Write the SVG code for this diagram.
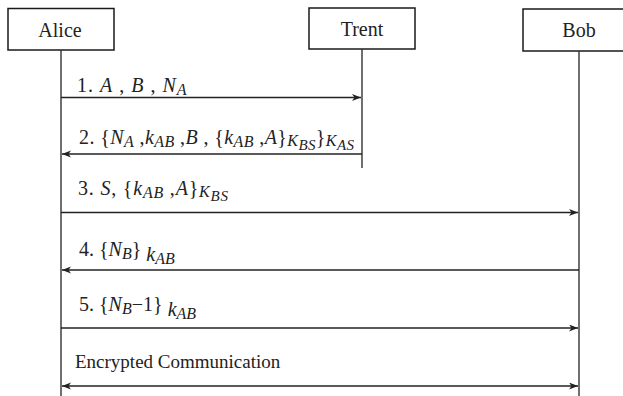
<svg xmlns="http://www.w3.org/2000/svg" width="623" height="396" viewBox="0 0 623 396">
<style>
.box{fill:#fff;stroke:#1a1a1a;stroke-width:1.5}
.life{stroke:#333;stroke-width:1.4;fill:none}
.msg{stroke:#222;stroke-width:1.4;fill:none}
.t{font-family:'Liberation Serif','Times New Roman','DejaVu Serif',serif;fill:#222}
.name{font-size:20px}
.enc{font-size:19px}
.lbl{font-size:20px;letter-spacing:0.4px}
.i{font-style:italic}
.s{font-size:16px;font-style:italic}
.ss{font-size:15px;font-style:italic}
</style>
<defs>
<marker id="ah" markerUnits="userSpaceOnUse" markerWidth="10" markerHeight="8" refX="9" refY="3.5" orient="auto-start-reverse">
<path d="M0,0 L9,3.5 L0,7 L2.5,3.5 z" fill="#222"/>
</marker>
</defs>
<g id="alice">
<rect class="box" x="8" y="8.5" width="106" height="41.5"/>
<text class="t name" x="60" y="37" text-anchor="middle">Alice</text>
</g>
<g id="trent">
<rect class="box" x="309" y="8" width="106" height="41"/>
<text class="t name" x="362" y="36" text-anchor="middle">Trent</text>
</g>
<g id="bob">
<rect class="box" x="523" y="9" width="112" height="42"/>
<text class="t name" x="579" y="37" text-anchor="middle">Bob</text>
</g>
<g id="connectors">
<line class="life" x1="61" y1="50" x2="61" y2="396"/>
<line class="life" x1="362" y1="49" x2="362" y2="168"/>
<line class="life" x1="579" y1="51" x2="579" y2="396"/>
<line class="msg" x1="61" y1="97.5" x2="361" y2="97.5" marker-end="url(#ah)"/>
<line class="msg" x1="362" y1="154" x2="62" y2="154" marker-end="url(#ah)"/>
<line class="msg" x1="61" y1="212.5" x2="578" y2="212.5" marker-end="url(#ah)"/>
<line class="msg" x1="579" y1="270" x2="62" y2="270" marker-end="url(#ah)"/>
<line class="msg" x1="61" y1="328" x2="578" y2="328" marker-end="url(#ah)"/>
<line class="msg" x1="62" y1="386" x2="578" y2="386" marker-start="url(#ah)" marker-end="url(#ah)"/>
</g>
<g id="labels">
<text class="t lbl" x="77" y="92" style="letter-spacing:1px">1. <tspan class="i">A</tspan> , <tspan class="i">B</tspan> , <tspan class="i">N</tspan><tspan class="s" dy="3">A</tspan></text>
<text class="t lbl" x="79" y="144">2. {<tspan class="i">N</tspan><tspan class="s" dy="3">A</tspan><tspan dy="-3"> ,</tspan><tspan class="i">k</tspan><tspan class="s" dy="3">AB</tspan><tspan dy="-3"> ,</tspan><tspan class="i">B</tspan> , {<tspan class="i">k</tspan><tspan class="s" dy="3">AB</tspan><tspan dy="-3"> ,</tspan><tspan class="i">A</tspan>}<tspan class="s" dy="2">K</tspan><tspan class="ss" dy="4">BS</tspan><tspan dy="-6">}</tspan><tspan class="s" dy="2">K</tspan><tspan class="ss" dy="4">AS</tspan></text>
<text class="t lbl" x="78" y="195" style="letter-spacing:0.8px">3. <tspan class="i">S</tspan>, {<tspan class="i">k</tspan><tspan class="s" dy="3">AB</tspan><tspan dy="-3"> ,</tspan><tspan class="i">A</tspan>}<tspan class="s" dy="2">K</tspan><tspan class="ss" dy="4">BS</tspan></text>
<text class="t lbl" x="79" y="256" style="letter-spacing:0">4. {<tspan class="i">N</tspan><tspan class="s" dy="3">B</tspan><tspan dy="-3">} </tspan><tspan class="i" dy="5">k</tspan><tspan class="s" dy="3">AB</tspan></text>
<text class="t lbl" x="79" y="311" style="letter-spacing:0">5. {<tspan class="i">N</tspan><tspan class="s" dy="3">B</tspan><tspan dy="-3">−1} </tspan><tspan class="i" dy="5">k</tspan><tspan class="s" dy="3">AB</tspan></text>
<text class="t enc" x="75" y="368">Encrypted Communication</text>
</g>
</svg>
